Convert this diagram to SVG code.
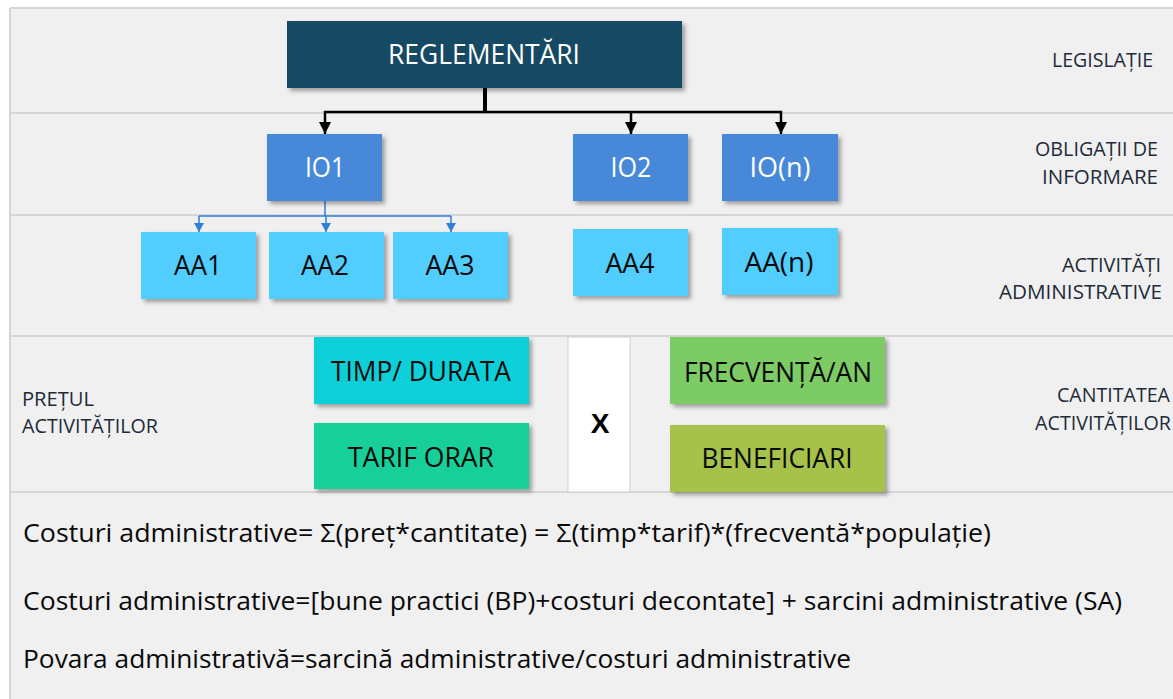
<svg xmlns="http://www.w3.org/2000/svg" width="1173" height="699" viewBox="0 0 1173 699">
<style>
text{font-family:"Open Sans","Noto Sans","DejaVu Sans",sans-serif}
.lbl{font-size:20px;fill:#1e2b38}
.btw{font-size:26.5px;fill:#ffffff;text-anchor:middle}
.btb{font-size:27px;fill:#0a0a0a;text-anchor:middle}
.frm{font-size:25.5px;fill:#0a0a0a}
.sep{stroke:#d6d6d6;stroke-width:2;fill:none}
.blk{stroke:#000;fill:none}
.blu{stroke:#2f7ed8;stroke-width:1.5;fill:none}
</style>
<defs>
<filter id="sh" x="-10%" y="-10%" width="125%" height="130%">
<feDropShadow dx="3" dy="3" stdDeviation="2" flood-color="#000" flood-opacity="0.35"/>
</filter>
<marker id="au" markerUnits="userSpaceOnUse" markerWidth="9" markerHeight="10" refX="9" refY="5" orient="auto" viewBox="0 0 9 10">
<path d="M0,0 L9,5 L0,10 Z" fill="#2f7ed8"/>
</marker>
<marker id="ak" markerUnits="userSpaceOnUse" markerWidth="12" markerHeight="12" refX="12" refY="6" orient="auto" viewBox="0 0 12 12">
<path d="M0,0 L12,6 L0,12 Z" fill="#000"/>
</marker>
</defs>
<rect x="0" y="0" width="1173" height="699" fill="#ffffff"/>
<g id="bands">
<rect x="10" y="8" width="1163" height="691" fill="#f0f0f0"/>
<path class="sep" d="M10,8 H1173"/>
<path class="sep" d="M10,8 V699"/>
<path class="sep" d="M10,113 H1173"/>
<path class="sep" d="M10,215 H1173"/>
<path class="sep" d="M10,336 H1173"/>
<path class="sep" d="M10,492 H1173"/>
</g>
<g id="labels">
<text class="lbl" x="1153" y="67" text-anchor="end" textLength="101" lengthAdjust="spacingAndGlyphs">LEGISLAȚIE</text>
<text class="lbl" x="1158" y="156" text-anchor="end" textLength="123" lengthAdjust="spacingAndGlyphs">OBLIGAȚII DE</text>
<text class="lbl" x="1158" y="184" text-anchor="end" textLength="116" lengthAdjust="spacingAndGlyphs">INFORMARE</text>
<text class="lbl" x="1161" y="272" text-anchor="end" textLength="99" lengthAdjust="spacingAndGlyphs">ACTIVITĂȚI</text>
<text class="lbl" x="1162" y="299" text-anchor="end" textLength="163" lengthAdjust="spacingAndGlyphs">ADMINISTRATIVE</text>
<text class="lbl" x="1170" y="402" text-anchor="end" textLength="113" lengthAdjust="spacingAndGlyphs">CANTITATEA</text>
<text class="lbl" x="1171" y="430" text-anchor="end" textLength="136" lengthAdjust="spacingAndGlyphs">ACTIVITĂȚILOR</text>
<text class="lbl" x="22" y="406" textLength="72" lengthAdjust="spacingAndGlyphs">PREȚUL</text>
<text class="lbl" x="22" y="433" textLength="136" lengthAdjust="spacingAndGlyphs">ACTIVITĂȚILOR</text>
</g>
<g id="connectors">
<path class="blk" stroke-width="4" d="M485,88 V112"/>
<path class="blk" stroke-width="2.5" d="M324,112 H782"/>
<path class="blk" stroke-width="2.5" d="M325,111 V134" marker-end="url(#ak)"/>
<path class="blk" stroke-width="2.5" d="M631,111 V134" marker-end="url(#ak)"/>
<path class="blk" stroke-width="2.5" d="M781,111 V134" marker-end="url(#ak)"/>
<path class="blu" d="M325,201 V216"/>
<path class="blu" d="M199,216 H451"/>
<path class="blu" d="M199,216 V232" marker-end="url(#au)"/>
<path class="blu" d="M326,216 V232" marker-end="url(#au)"/>
<path class="blu" d="M451,216 V232" marker-end="url(#au)"/>
</g>
<g id="reglementari">
<rect x="287" y="21" width="395" height="67" fill="#134a63" filter="url(#sh)"/>
<text class="btw" x="484" y="64" textLength="192" lengthAdjust="spacingAndGlyphs">REGLEMENTĂRI</text>
</g>
<g id="io1">
<rect x="267" y="134" width="115" height="67" fill="#4689d8" filter="url(#sh)"/>
<text class="btw" x="325" y="177" textLength="40" lengthAdjust="spacingAndGlyphs">IO1</text>
</g>
<g id="io2">
<rect x="573" y="134" width="115" height="67" fill="#4689d8" filter="url(#sh)"/>
<text class="btw" x="631" y="177" textLength="41" lengthAdjust="spacingAndGlyphs">IO2</text>
</g>
<g id="ion">
<rect x="722" y="134" width="116" height="67" fill="#4689d8" filter="url(#sh)"/>
<text class="btw" x="780" y="177" textLength="61" lengthAdjust="spacingAndGlyphs">IO(n)</text>
</g>
<g id="aa1">
<rect x="141" y="232" width="115" height="67" fill="#51cdfe" filter="url(#sh)"/>
<text class="btb" x="198" y="275" textLength="48" lengthAdjust="spacingAndGlyphs">AA1</text>
</g>
<g id="aa2">
<rect x="269" y="232" width="115" height="67" fill="#51cdfe" filter="url(#sh)"/>
<text class="btb" x="325" y="275" textLength="48" lengthAdjust="spacingAndGlyphs">AA2</text>
</g>
<g id="aa3">
<rect x="393" y="232" width="115" height="67" fill="#51cdfe" filter="url(#sh)"/>
<text class="btb" x="450" y="275" textLength="49" lengthAdjust="spacingAndGlyphs">AA3</text>
</g>
<g id="aa4">
<rect x="573" y="229" width="115" height="67" fill="#51cdfe" filter="url(#sh)"/>
<text class="btb" x="630" y="273" textLength="49" lengthAdjust="spacingAndGlyphs">AA4</text>
</g>
<g id="aan">
<rect x="722" y="228" width="116" height="67" fill="#51cdfe" filter="url(#sh)"/>
<text class="btb" x="779" y="272" textLength="69" lengthAdjust="spacingAndGlyphs">AA(n)</text>
</g>
<g id="timp">
<rect x="314" y="337" width="215" height="67" fill="#10cfd8" filter="url(#sh)"/>
<text class="btb" x="421" y="381" textLength="180" lengthAdjust="spacingAndGlyphs">TIMP/ DURATA</text>
</g>
<g id="tarif">
<rect x="314" y="423" width="215" height="66" fill="#14cf99" filter="url(#sh)"/>
<text class="btb" x="421" y="467" textLength="146" lengthAdjust="spacingAndGlyphs">TARIF ORAR</text>
</g>
<g id="x">
<rect x="568" y="337" width="62" height="155" fill="#ffffff" stroke="#cfcfcf" stroke-width="1"/>
<text x="600" y="433" text-anchor="middle" style="font-family:'Liberation Sans',Arial,sans-serif;font-size:28px;font-weight:bold;fill:#000">X</text>
</g>
<g id="frecventa">
<rect x="670" y="337" width="215" height="67" fill="#7ccb65" filter="url(#sh)"/>
<text class="btb" x="778" y="382" textLength="188" lengthAdjust="spacingAndGlyphs">FRECVENȚĂ/AN</text>
</g>
<g id="beneficiari">
<rect x="670" y="425" width="215" height="67" fill="#a6c24b" filter="url(#sh)"/>
<text class="btb" x="777" y="468" textLength="151" lengthAdjust="spacingAndGlyphs">BENEFICIARI</text>
</g>
<g id="formulas">
<text class="frm" x="23" y="542" textLength="968" lengthAdjust="spacingAndGlyphs">Costuri administrative= Σ(preț*cantitate) = Σ(timp*tarif)*(frecventă*populație)</text>
<text class="frm" x="23" y="610" textLength="1099" lengthAdjust="spacingAndGlyphs">Costuri administrative=[bune practici (BP)+costuri decontate] + sarcini administrative (SA)</text>
<text class="frm" x="23" y="668" textLength="828" lengthAdjust="spacingAndGlyphs">Povara administrativă=sarcină administrative/costuri administrative</text>
</g>
</svg>
